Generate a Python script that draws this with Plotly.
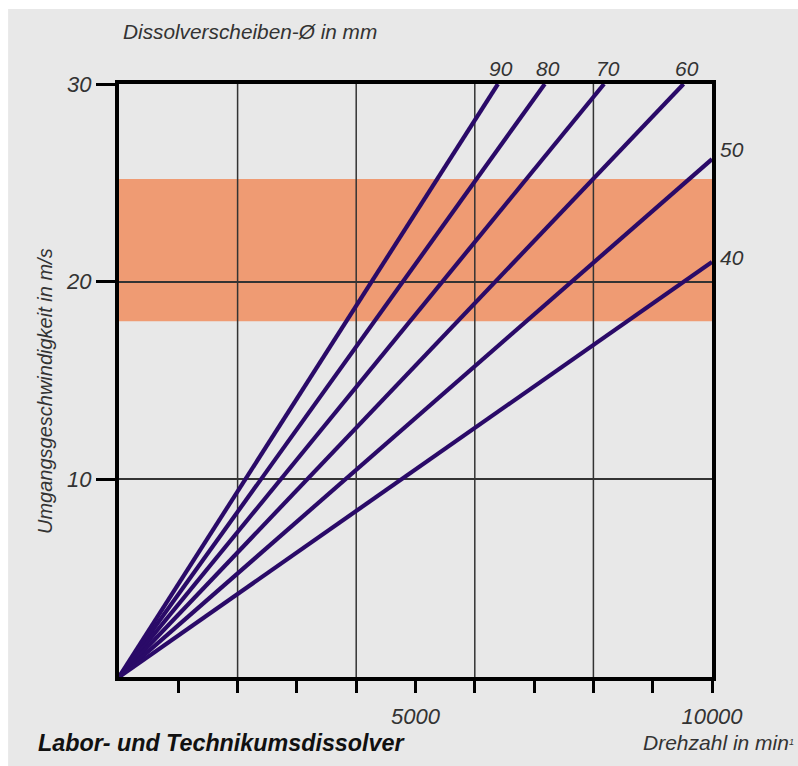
import plotly.graph_objects as go

# Peripheral speed of dissolver discs vs. shaft speed
disc_diameters = ["90", "80", "70", "60", "50", "40"]          # mm
end_rpm = [6390, 7180, 8180, 9520, 10000, 10000]             # min^-1 at line end
end_speed = [30, 30, 30, 30, 26.2, 21.0]                      # m/s at line end

band_speed = [18.0, 25.2]                                      # recommended range, m/s
grid_rpm = [2000, 4000, 6000, 8000]
x_minor_ticks = [1000, 2000, 3000, 4000, 6000, 7000, 8000, 9000]
x_tick_vals = [5000, 10000]
x_tick_text = ["5000", "10000"]
y_tick_vals = [10, 20, 30]
y_tick_text = ["10", "20", "30"]

# label offsets (pixels) for the diameter captions
label_style = [
    dict(xanchor="center", xshift=3, yshift=16),
    dict(xanchor="center", xshift=3, yshift=16),
    dict(xanchor="center", xshift=4, yshift=16),
    dict(xanchor="center", xshift=3, yshift=16),
    dict(xanchor="left", xshift=6, yshift=10),
    dict(xanchor="left", xshift=6, yshift=4),
]

FONT = "Liberation Sans, Arial, Helvetica, sans-serif"
LINE = "#2a0a68"
BG = "#e8e8e8"
BAND = "#ef9b73"
TXT = "#333333"

fig = go.Figure()

for d, xr, ys in zip(disc_diameters, end_rpm, end_speed):
    fig.add_trace(go.Scatter(
        x=[0, xr], y=[0, ys], mode="lines",
        line=dict(color=LINE, width=4.2),
        name=d, showlegend=False, hoverinfo="skip",
    ))

annotations = []
for d, xr, ys, st in zip(disc_diameters, end_rpm, end_speed, label_style):
    annotations.append(dict(
        x=xr, y=ys, xref="x", yref="y", text=d, showarrow=False,
        yanchor="middle", font=dict(family=FONT, size=21, style="italic", color=TXT),
        **st,
    ))

annotations += [
    dict(text="Dissolverscheiben-Ø in mm", xref="paper", yref="paper",
         x=0.004, y=1.088, xanchor="left", yanchor="middle", showarrow=False,
         font=dict(family=FONT, size=20.8, style="italic", color=TXT)),
    dict(text="Umgangsgeschwindigkeit in m/s", xref="paper", yref="paper",
         x=-0.125, y=0.482, xanchor="center", yanchor="middle", textangle=-90,
         showarrow=False,
         font=dict(family=FONT, size=20, style="italic", color=TXT)),
    dict(text="<b>Labor- und Technikumsdissolver</b>", xref="paper", yref="paper",
         x=-0.140, y=-0.112, xanchor="left", yanchor="middle", showarrow=False,
         font=dict(family=FONT, size=23.3, style="italic", color="#111111")),
    dict(text="Drehzahl in min<span style='font-size:13px'><sup>1</sup></span>",
         xref="paper", yref="paper",
         x=1.141, y=-0.110, xanchor="right", yanchor="middle", showarrow=False,
         font=dict(family=FONT, size=21, style="italic", color=TXT)),
]

shapes = [
    # page panel
    dict(type="rect", xref="paper", yref="paper", x0=-0.187, x1=1.3,
         y0=-0.4, y1=1.1265, fillcolor=BG, line=dict(width=0), layer="below"),
    # recommended speed band
    dict(type="rect", xref="paper", yref="y", x0=0, x1=1,
         y0=band_speed[0], y1=band_speed[1], fillcolor=BAND,
         line=dict(width=0), layer="below"),
]
for g in grid_rpm:
    shapes.append(dict(type="line", xref="x", yref="paper", x0=g, x1=g,
                       y0=0, y1=1, line=dict(color=TXT, width=1.5),
                       layer="below"))
# longer end tick at the right edge of the rpm axis
shapes.append(dict(type="line", xref="x", yref="y", x0=x_tick_vals[-1], x1=x_tick_vals[-1],
                   ysizemode="pixel", yanchor=0, y0=0, y1=-20,
                   line=dict(color="#000000", width=4)))

fig.update_layout(
    width=798, height=766,
    margin=dict(l=119, r=86, t=84, b=89),
    paper_bgcolor="#ffffff",
    plot_bgcolor="rgba(0,0,0,0)",
    showlegend=False,
    annotations=annotations,
    shapes=shapes,
    xaxis=dict(
        range=[0, 10000], showgrid=False, zeroline=False,
        tickmode="array", tickvals=x_tick_vals, ticktext=x_tick_text,
        ticks="outside", ticklen=12, tickwidth=3, tickcolor="#000000",
        ticklabelstandoff=5,
        minor=dict(tickmode="array", tickvals=x_minor_ticks, ticks="outside",
                   ticklen=12, tickwidth=3, tickcolor="#000000", showgrid=False),
        showline=True, linewidth=4, linecolor="#000000", mirror=True,
        tickfont=dict(family=FONT, size=22, style="italic", color=TXT),
    ),
    yaxis=dict(
        range=[0, 30], showgrid=True, gridcolor=TXT, gridwidth=1.5,
        zeroline=False,
        tickmode="array", tickvals=y_tick_vals, ticktext=y_tick_text,
        ticks="outside", ticklen=19, tickwidth=3, tickcolor="#000000",
        showline=True, linewidth=4, linecolor="#000000", mirror=True,
        tickfont=dict(family=FONT, size=22, style="italic", color=TXT),
    ),
)

fig.write_html("out.html")
